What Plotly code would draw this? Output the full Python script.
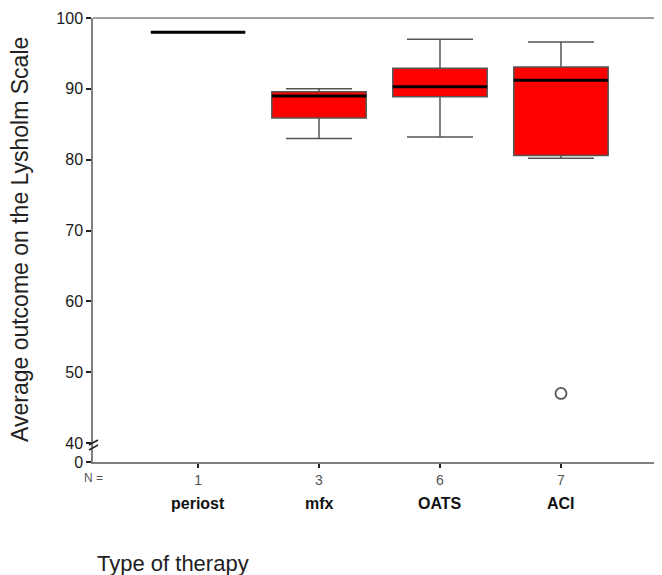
import plotly.graph_objects as go

# ---- data ----
categories = ["periost", "mfx", "OATS", "ACI"]
n_counts = [1, 3, 6, 7]
q1 = [98.0, 85.9, 88.9, 80.6]
median = [98.0, 89.0, 90.3, 91.2]
q3 = [98.0, 89.6, 92.9, 93.1]
lower_whisker = [98.0, 83.0, 83.2, 80.2]
upper_whisker = [98.0, 90.0, 97.0, 96.6]
outlier_cat = ["ACI"]
outlier_val = [47.0]
y_ticks = [40, 50, 60, 70, 80, 90, 100]
y_axis_floor = 37.32  # drawn as "0" below the axis break

pos = list(range(len(categories)))
out_pos = [categories.index(c) for c in outlier_cat]

FONT = "Liberation Sans, Arial, sans-serif"

fig = go.Figure()

# boxes
fig.add_trace(go.Box(
    x=pos, q1=q1, median=median, q3=q3,
    lowerfence=lower_whisker, upperfence=upper_whisker,
    fillcolor="#ff0000", line=dict(color="#555555", width=1.5),
    width=0.78, whiskerwidth=0.7, boxpoints=False, showlegend=False,
    hoverinfo="skip",
))
# thick black medians
fig.add_trace(go.Box(
    x=pos, q1=median, median=median, q3=median,
    lowerfence=median, upperfence=median,
    fillcolor="rgba(0,0,0,0)", line=dict(color="#000000", width=3),
    width=0.78, whiskerwidth=0, boxpoints=False, showlegend=False,
    hoverinfo="skip",
))
# outlier
fig.add_trace(go.Scatter(
    x=out_pos, y=outlier_val, mode="markers",
    marker=dict(symbol="circle-open", size=11, color="#555555",
                line=dict(width=1.8, color="#555555")),
    showlegend=False, hoverinfo="skip",
))

# page body has an 8px margin, so the figure is offset by 8px
fig.update_layout(
    width=654, height=567,
    margin=dict(l=85, r=0, t=10, b=113, autoexpand=False),
    plot_bgcolor="white", paper_bgcolor="white",
    boxmode="overlay",
    font=dict(family=FONT, color="#222222"),
    xaxis=dict(
        range=[-0.868, 3.835], tickmode="array", tickvals=pos,
        ticktext=[str(n) for n in n_counts],
        tickfont=dict(size=14, color="#555555"),
        ticks="outside", ticklen=4, tickwidth=2, tickcolor="#222222",
        showline=True, linecolor="#808080", linewidth=1.5,
        showgrid=False, zeroline=False, automargin=False,
    ),
    yaxis=dict(
        range=[y_axis_floor, 100], tickmode="array",
        tickvals=[y_axis_floor] + y_ticks,
        ticktext=["0"] + [str(v) for v in y_ticks],
        tickfont=dict(size=16, color="#1a1a1a"),
        ticks="outside", ticklen=5, tickwidth=2, tickcolor="#222222",
        showline=True, linecolor="#808080", linewidth=1.5,
        showgrid=False, zeroline=False, automargin=False,
    ),
)

# top frame line
fig.add_shape(type="line", xref="paper", yref="paper", x0=0, x1=1, y0=1, y1=1,
              line=dict(color="#808080", width=1.5))

# axis break marks
for dy in (0, -5):
    fig.add_shape(type="line", xref="paper", yref="y",
                  xsizemode="pixel", xanchor=0, ysizemode="pixel", yanchor=40,
                  x0=-4, x1=5, y0=-2 + dy, y1=3 + dy,
                  line=dict(color="#222222", width=1.5))

# category names
for p, name in zip(pos, categories):
    fig.add_annotation(x=p, y=0, xref="x", yref="paper", yanchor="middle",
                       yshift=-41, text=f"<b>{name}</b>", showarrow=False,
                       font=dict(size=16, color="#111111"))

fig.add_annotation(x=0, y=0, xref="paper", yref="paper", xanchor="center",
                   yanchor="middle", yshift=-16, text="N =", showarrow=False,
                   font=dict(size=12, color="#555555"))

fig.add_annotation(x=0, y=0, xref="paper", yref="paper", xanchor="left",
                   yanchor="middle", xshift=2, yshift=-101,
                   text="Type of therapy", showarrow=False,
                   font=dict(size=22, color="#222222"))

fig.add_annotation(x=0, y=0.5, xref="paper", yref="paper", xanchor="center",
                   yanchor="middle", xshift=-73, textangle=-90,
                   text="Average outcome on the Lysholm Scale", showarrow=False,
                   font=dict(size=23, color="#222222"))

fig.write_html("out.html")
